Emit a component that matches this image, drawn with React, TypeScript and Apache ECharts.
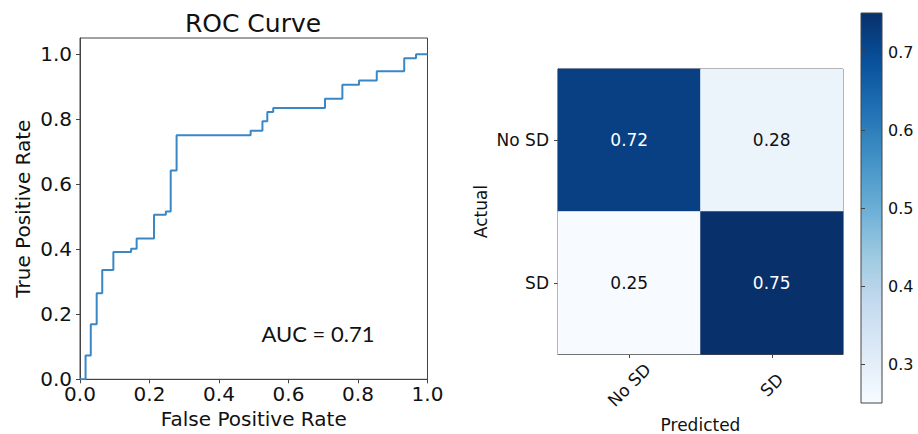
import React, { useEffect, useRef } from "react";
import * as echarts from "echarts";

// ROC curve points (false positive rate, true positive rate)
const fpr = [0, 0.016, 0.031, 0.048, 0.064, 0.096, 0.147, 0.163, 0.213, 0.247, 0.261, 0.278, 0.491, 0.525, 0.539, 0.556, 0.705, 0.755, 0.803, 0.854, 0.933, 0.967, 1.0];
const tpr = [0, 0.073, 0.169, 0.265, 0.336, 0.392, 0.402, 0.433, 0.506, 0.516, 0.642, 0.751, 0.765, 0.794, 0.822, 0.835, 0.863, 0.906, 0.919, 0.948, 0.988, 1.0, 1.0];
const rocTicks = [0, 0.2, 0.4, 0.6, 0.8, 1.0];
const aucText = "AUC = 0.71";

// Confusion matrix (row = actual, column = predicted)
const predictedLabels = ["No SD", "SD"];
const actualLabels = ["No SD", "SD"];
const matrix = [
  [0.72, 0.28],
  [0.25, 0.75],
];
const colorbarTicks = [0.3, 0.4, 0.5, 0.6, 0.7];
const cmMin = 0.25;
const cmMax = 0.75;

// matplotlib "Blues" colormap stops
const BLUES = ["#f7fbff", "#deebf7", "#c6dbef", "#9ecae1", "#6baed6", "#4292c6", "#2171b5", "#08519c", "#08306b"];

const FONT = "DejaVu Sans";
const AXIS_COLOR = "#444";

export default function App() {
  const ref = useRef<HTMLDivElement>(null);

  useEffect(() => {
    document.body.style.margin = "0";
    if (!ref.current) return;
    const chart = echarts.init(ref.current, null, { renderer: "svg" });

    const rocData = fpr.map((x, i) => [x, tpr[i]]);
    const heatData: any[] = [];
    matrix.forEach((row, r) => {
      row.forEach((v, c) => {
        heatData.push({
          value: [c, r, v],
          label: { color: v > (cmMin + cmMax) / 2 ? "#ffffff" : "#111111" },
        });
      });
    });

    const gradStops = BLUES.map((c, i) => ({ offset: 1 - i / (BLUES.length - 1), color: c })).reverse();

    const tickCommon = {
      show: true,
      length: 4,
      inside: false,
      lineStyle: { color: AXIS_COLOR, width: 1 },
    };
    const lineCommon = { show: true, onZero: false, lineStyle: { color: AXIS_COLOR, width: 1 } };

    chart.setOption({
      animation: false,
      backgroundColor: "#ffffff",
      textStyle: { fontFamily: FONT },
      grid: [
        { left: 80, top: 38, width: 347.5, height: 341.3, show: true, borderColor: AXIS_COLOR, borderWidth: 1, backgroundColor: "transparent", outerBoundsMode: "none", containLabel: false },
        { left: 558, top: 69, width: 285, height: 285, show: true, borderColor: AXIS_COLOR, borderWidth: 1, backgroundColor: "transparent", outerBoundsMode: "none", containLabel: false },
        { left: 861, top: 13, width: 21, height: 390, show: false, outerBoundsMode: "none", containLabel: false },
      ],
      xAxis: [
        {
          gridIndex: 0,
          type: "value",
          min: 0,
          max: 1,
          interval: 0.2,
          axisLine: lineCommon,
          axisTick: tickCommon,
          splitLine: { show: false },
          axisLabel: { fontSize: 20, color: "#111", margin: 5, fontFamily: FONT, formatter: (v: number) => v.toFixed(1) },
          name: "False Positive Rate",
          nameLocation: "middle",
          nameGap: 27,
          nameTextStyle: { fontSize: 20, color: "#111", fontFamily: FONT },
        },
        {
          gridIndex: 1,
          type: "category",
          data: predictedLabels,
          axisLine: lineCommon,
          axisTick: { ...tickCommon, alignWithLabel: true },
          splitLine: { show: false },
          axisLabel: { fontSize: 17, color: "#111", rotate: 45, align: "center", verticalAlign: "middle", margin: 31, fontFamily: FONT },
          name: "Predicted",
          nameLocation: "middle",
          nameGap: 62,
          nameTextStyle: { fontSize: 17, color: "#111", fontFamily: FONT },
        },
        {
          gridIndex: 2,
          type: "value",
          show: false,
          min: 0,
          max: 1,
        },
      ],
      yAxis: [
        {
          gridIndex: 0,
          type: "value",
          min: 0,
          max: 1.05,
          interval: 0.2,
          axisLine: lineCommon,
          axisTick: { ...tickCommon, customValues: rocTicks },
          splitLine: { show: false },
          axisLabel: { fontSize: 20, color: "#111", margin: 8, fontFamily: FONT, customValues: rocTicks, formatter: (v: number) => v.toFixed(1) },
          name: "True Positive Rate",
          nameLocation: "middle",
          nameGap: 47,
          nameTextStyle: { fontSize: 20, color: "#111", fontFamily: FONT },
        },
        {
          gridIndex: 1,
          type: "category",
          data: actualLabels,
          inverse: true,
          axisLine: lineCommon,
          axisTick: { ...tickCommon, alignWithLabel: true },
          splitLine: { show: false },
          axisLabel: { fontSize: 17, color: "#111", margin: 9, fontFamily: FONT },
          name: "Actual",
          nameLocation: "middle",
          nameGap: 69,
          nameTextStyle: { fontSize: 17, color: "#111", fontFamily: FONT },
        },
        {
          gridIndex: 2,
          type: "value",
          position: "right",
          min: cmMin,
          max: cmMax,
          axisLine: { show: false },
          axisTick: { ...tickCommon, customValues: colorbarTicks },
          splitLine: { show: false },
          axisLabel: { fontSize: 16, color: "#111", margin: 6, fontFamily: FONT, customValues: colorbarTicks, formatter: (v: number) => v.toFixed(1) },
        },
      ],
      visualMap: {
        show: false,
        type: "continuous",
        min: cmMin,
        max: cmMax,
        seriesIndex: 1,
        inRange: { color: BLUES },
      },
      graphic: [
        {
          type: "text",
          x: 253,
          y: 23,
          style: { text: "ROC Curve", font: `25px "${FONT}"`, fill: "#111", align: "center", verticalAlign: "middle" },
        },
        {
          type: "text",
          x: 318,
          y: 333,
          style: { text: aucText, font: `22px Lato`, fill: "#111", align: "center", verticalAlign: "middle" },
        },
        {
          type: "rect",
          shape: { x: 861, y: 13, width: 21, height: 390 },
          style: {
            fill: new echarts.graphic.LinearGradient(0, 0, 0, 1, gradStops),
            stroke: AXIS_COLOR,
            lineWidth: 1,
          },
          z: -1,
        },
      ],
      series: [
        {
          type: "line",
          xAxisIndex: 0,
          yAxisIndex: 0,
          data: rocData,
          step: "end",
          showSymbol: false,
          symbol: "none",
          lineStyle: { color: "#3a87c6", width: 2 },
          clip: true,
        },
        {
          type: "heatmap",
          xAxisIndex: 1,
          yAxisIndex: 1,
          data: heatData,
          label: {
            show: true,
            fontSize: 17,
            fontFamily: FONT,
            formatter: (p: any) => p.value[2].toFixed(2),
          },
          itemStyle: { borderWidth: 0 },
          emphasis: { disabled: true },
        },
      ],
    });

    return () => chart.dispose();
  }, []);

  return <div ref={ref} style={{ width: 918, height: 434 }} />;
}
